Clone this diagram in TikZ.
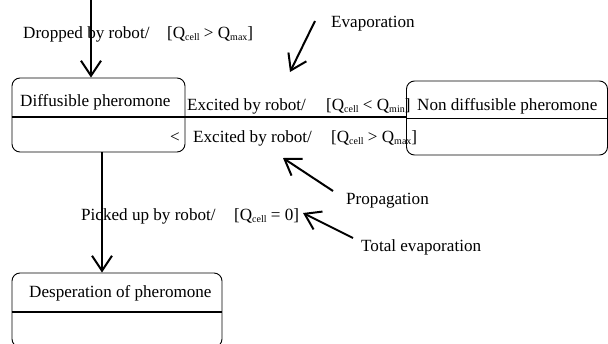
\documentclass[tikz,border=0pt]{standalone}
\usepackage{fontspec}
\setmainfont{Liberation Serif}
\usetikzlibrary{arrows.meta}
\newcommand\qsub[1]{\raisebox{-2.2pt}{\fontsize{10}{10}\selectfont #1}}
\begin{document}
\begin{tikzpicture}[x=1pt,y=-1pt,
  state/.style={draw,rounded corners=8pt,line width=0.9pt,inner sep=0pt},
  divider/.style={line width=1.3pt},
  lbl/.style={inner sep=0pt,anchor=base west,font=\fontsize{17.1}{20}\selectfont},
  arr/.style={line width=2pt,-{Straight Barb[length=15pt,width=20pt,line width=2pt]}},
  ]
\clip (0,0) rectangle (608,343);
% states
\node[state,minimum width=173pt,minimum height=74pt] (diff) at (98.5,115) {};
\node[state,minimum width=201pt,minimum height=74pt] (nondiff) at (507,118) {};
\node[state,minimum width=210pt,minimum height=74pt] (desp) at (117,310) {};
% dividers / connector
\draw[divider] (diff.west |- 0,117) -- (nondiff.west |- 0,117);
\draw[divider] (nondiff.west |- 0,118.5) -- (nondiff.east |- 0,118.5);
\draw[divider] (desp.west |- 0,312) -- (desp.east |- 0,312);
% state titles
\node[lbl] (diffT) at (20,106) {Diffusible pheromone};
\node[lbl] (nondiffT) at (417,110) {Non diffusible pheromone};
\node[lbl] (despT) at (29,297) {Desperation of pheromone};
% transition labels
\node[lbl] (dropL) at (23,38) {Dropped by robot/};
\node[lbl] (dropG) at (167,38) {[Q\qsub{cell} > Q\qsub{max}]};
\node[lbl] (exc1L) at (187,110) {Excited by robot/};
\node[lbl] (exc1G) at (326,110) {[Q\qsub{cell} < Q\qsub{min}]};
\node[lbl] (ltS) at (170,142) {<};
\node[lbl] (exc2L) at (193,142) {Excited by robot/};
\node[lbl] (exc2G) at (331,142) {[Q\qsub{cell} > Q\qsub{max}]};
\node[lbl] (pickL) at (81,220) {Picked up by robot/};
\node[lbl] (pickG) at (234,220) {[Q\qsub{cell} = 0]};
\node[lbl] (evapT) at (331,27) {Evaporation};
\node[lbl] (propT) at (346,204) {Propagation};
\node[lbl] (totT) at (361,251) {Total evaporation};
% arrows
\coordinate (dropS) at (91,0);
\draw[arr] (dropS) -- (dropS |- diff.north);
\path ([xshift=3.5pt]diff.south) coordinate (pickS);
\draw[arr] (pickS) -- (pickS |- desp.north);
\coordinate (evS) at (315,21);
\coordinate (evE) at (290,72);
\draw[arr] (evS) -- (evE);
\coordinate (prS) at (333,191);
\coordinate (prE) at (283,158);
\draw[arr] (prS) -- (prE);
\coordinate (teS) at (353,238);
\coordinate (teE) at (303,213);
\draw[arr] (teS) -- (teE);
\end{tikzpicture}
\end{document}
